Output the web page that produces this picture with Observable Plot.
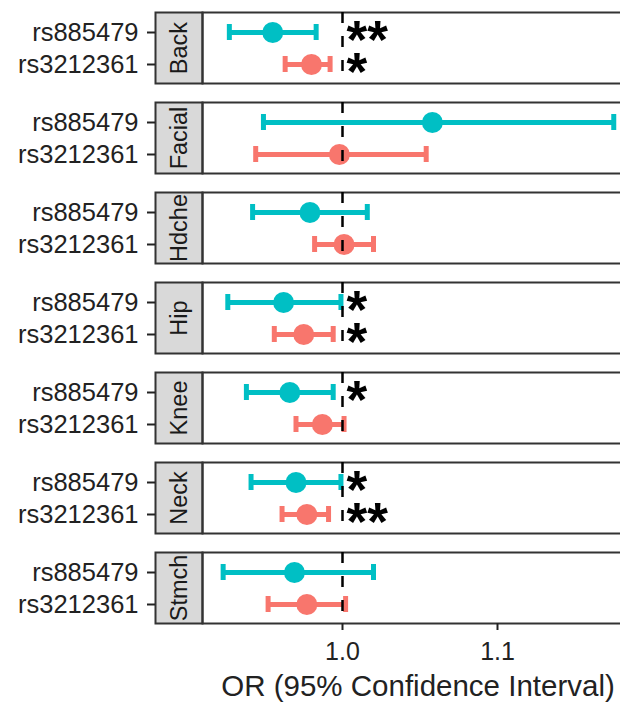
<!DOCTYPE html>
<html><head><meta charset="utf-8">
<script src="https://cdn.jsdelivr.net/npm/d3@7"></script>
<script src="https://cdn.jsdelivr.net/npm/@observablehq/plot@0.6"></script>
<style>
html,body{margin:0;background:#fff;overflow:hidden;}
#chart svg{display:block;}
g[aria-label="x-axis label"] text{font-size:29.5px;}
</style></head><body><div id="chart"></div>
<script>
const panels = ["Back","Facial","Hdche","Hip","Knee","Neck","Stmch"];
const snps = ["rs885479","rs3212361"];
const or885 = [0.955, 1.058, 0.979, 0.962, 0.966, 0.970, 0.969];
const lo885 = [0.927, 0.949, 0.942, 0.926, 0.938, 0.941, 0.923];
const hi885 = [0.983, 1.175, 1.016, 0.999, 0.994, 0.999, 1.020];
const or321 = [0.980, 0.998, 1.001, 0.975, 0.987, 0.977, 0.977];
const lo321 = [0.963, 0.944, 0.982, 0.956, 0.970, 0.961, 0.952];
const hi321 = [0.992, 1.054, 1.020, 0.994, 1.001, 0.991, 1.002];
const sig885 = ["**","","","*","*","*",""];
const sig321 = ["*","","","*","","**",""];
const xTicks = [1.0, 1.1];
const refLine = [1.0];
const colors = ["#00BFC4","#F8766D"];

const rows = [];
panels.forEach((p,i)=>{
  rows.push({panel:p, snp:snps[0], or:or885[i], lo:lo885[i], hi:hi885[i], sig:sig885[i]});
  rows.push({panel:p, snp:snps[1], or:or321[i], lo:lo321[i], hi:hi321[i], sig:sig321[i]});
});
const sigRows = rows.filter(d=>d.sig);

const font = "'Liberation Sans', Arial, Helvetica, sans-serif";
const starSize = 28;
const starScale = 1.9;
const chart = Plot.plot({
  width:620, height:704,
  marginLeft:202, marginRight:-13, marginTop:12, marginBottom:80,
  style:{fontFamily:font, background:"#fff", maxWidth:"none"},
  x:{domain:[0.90968,1.18774]},
  y:{type:"band", domain:snps, paddingInner:0.5, paddingOuter:0.35},
  fy:{domain:panels, paddingInner:0.2056, paddingOuter:0, axis:null},
  color:{domain:snps, range:colors},
  marks:[
    Plot.frame({fill:"#D9D9D9", stroke:"#333", strokeWidth:2, insetLeft:-47, insetRight:431}),
    Plot.frame({stroke:"#333", strokeWidth:2}),
    Plot.ruleY(rows, {fy:"panel", y:"snp", x1:"lo", x2:"hi", stroke:"snp", strokeWidth:5}),
    Plot.tickX(rows, {fy:"panel", y:"snp", x:"lo", stroke:"snp", strokeWidth:5}),
    Plot.tickX(rows, {fy:"panel", y:"snp", x:"hi", stroke:"snp", strokeWidth:5}),
    Plot.dot(rows, {fy:"panel", y:"snp", x:"or", fill:"snp", r:10.5}),
    Plot.ruleX(refLine, {stroke:"black", strokeWidth:2.5, strokeDasharray:"11,13"}),
    Plot.text(sigRows, {fy:"panel", y:"snp", x:()=>refLine[0], text:"sig", textAnchor:"start", lineAnchor:"middle",
      dx:4, dy:8.5, fontSize:starSize, fontWeight:"bold", fill:"black"}),
    Plot.text(panels, {fy:d=>d, text:d=>d, frameAnchor:"left", textAnchor:"middle", dx:-23.5, rotate:-90, fontSize:23.5, fill:"#1a1a1a"}),
    Plot.axisY({dx:-47, tickSize:8, tickPadding:9, fontSize:25.5, label:null, color:"#222", strokeWidth:2}),
    Plot.axisX({ticks:xTicks, tickFormat:d3.format(".1f"), tickSize:7, tickPadding:12, fontSize:25, color:"#222", strokeWidth:2,
      label:"OR (95% Confidence Interval)", labelAnchor:"center", labelArrow:"none", labelOffset:72})
  ]
});
// enlarge the significance asterisks around their anchor
d3.select(chart).selectAll("text")
  .filter(function(){ return /^\*+$/.test(this.textContent); })
  .attr("transform", function(){ return (this.getAttribute("transform") || "") + ` scale(${starScale})`; });
document.getElementById("chart").appendChild(chart);
</script></body></html>
